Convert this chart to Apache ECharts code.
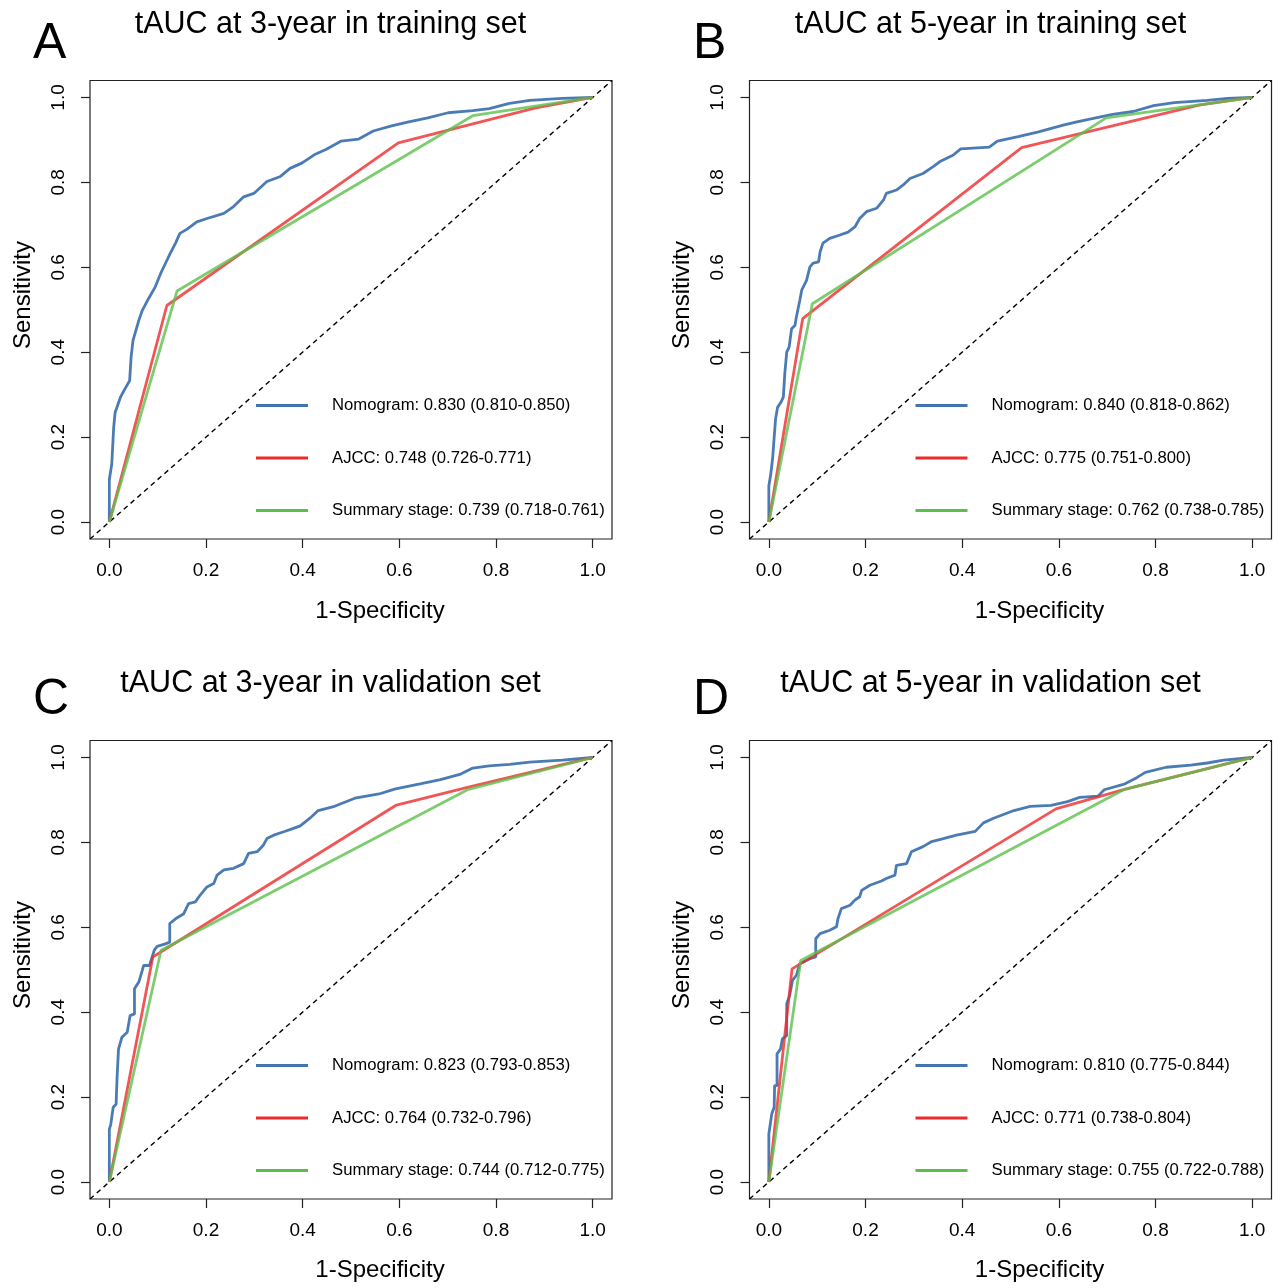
<!DOCTYPE html>
<html>
<head>
<meta charset="utf-8">
<script src="https://cdn.jsdelivr.net/npm/echarts@6/dist/echarts.min.js"></script>
<style>
  html, body { margin: 0; padding: 0; background: #fff; }
  #main { width: 1286px; height: 1288px; }
</style>
</head>
<body>
<div id="main"></div>
<script>
// tick values shared by both axes
var ticks = [0, 0.2, 0.4, 0.6, 0.8, 1.0];

var titles = ['tAUC at 3-year in training set', 'tAUC at 5-year in training set',
              'tAUC at 3-year in validation set', 'tAUC at 5-year in validation set'];
var letters = ['A', 'B', 'C', 'D'];
var modelNames = ['Nomogram', 'AJCC', 'Summary stage'];
var aucLabels = [
    ['0.830 (0.810-0.850)', '0.748 (0.726-0.771)', '0.739 (0.718-0.761)'],
    ['0.840 (0.818-0.862)', '0.775 (0.751-0.800)', '0.762 (0.738-0.785)'],
    ['0.823 (0.793-0.853)', '0.764 (0.732-0.796)', '0.744 (0.712-0.775)'],
    ['0.810 (0.775-0.844)', '0.771 (0.738-0.804)', '0.755 (0.722-0.788)']
];

// [1-specificity, sensitivity]
var nomogramA = [[0,0],[0,0.10],[0.005,0.136],[0.009,0.223],[0.012,0.258],[0.023,0.294],[0.03,0.309],[0.042,0.333],[0.045,0.388],[0.049,0.428],[0.061,0.475],[0.068,0.498],[0.081,0.526],[0.095,0.554],[0.106,0.585],[0.116,0.609],[0.126,0.633],[0.137,0.657],[0.146,0.68],[0.161,0.69],[0.181,0.707],[0.202,0.715],[0.237,0.727],[0.257,0.743],[0.278,0.766],[0.299,0.774],[0.326,0.802],[0.354,0.814],[0.374,0.833],[0.399,0.846],[0.424,0.865],[0.449,0.878],[0.479,0.897],[0.516,0.902],[0.546,0.921],[0.584,0.933],[0.617,0.942],[0.659,0.952],[0.701,0.964],[0.752,0.969],[0.786,0.974],[0.828,0.986],[0.87,0.993],[0.937,0.998],[1,1]];
var ajccA = [[0,0],[0.119,0.51],[0.598,0.893],[0.88,0.975],[1,1]];
var summaryA = [[0,0],[0.14,0.544],[0.752,0.957],[1,1]];

var nomogramB = [[0,0],[0,0.085],[0.004,0.113],[0.008,0.152],[0.011,0.199],[0.014,0.243],[0.018,0.27],[0.025,0.282],[0.03,0.294],[0.033,0.349],[0.037,0.4],[0.042,0.412],[0.047,0.455],[0.054,0.463],[0.057,0.483],[0.064,0.522],[0.068,0.546],[0.078,0.569],[0.085,0.601],[0.092,0.61],[0.103,0.613],[0.106,0.636],[0.112,0.657],[0.126,0.668],[0.147,0.676],[0.164,0.683],[0.178,0.695],[0.188,0.715],[0.202,0.731],[0.223,0.739],[0.237,0.758],[0.243,0.774],[0.264,0.782],[0.278,0.794],[0.292,0.809],[0.319,0.821],[0.34,0.837],[0.354,0.849],[0.381,0.864],[0.397,0.879],[0.456,0.883],[0.473,0.897],[0.516,0.908],[0.558,0.919],[0.609,0.935],[0.635,0.942],[0.669,0.95],[0.711,0.96],[0.754,0.967],[0.796,0.981],[0.839,0.988],[0.907,0.993],[0.949,0.998],[1,1]];
var ajccB = [[0,0],[0.07,0.479],[0.523,0.882],[0.89,0.982],[1,1]];
var summaryB = [[0,0],[0.09,0.514],[0.698,0.952],[1,1]];

var nomogramC = [[0,0],[0,0.124],[0.003,0.136],[0.008,0.176],[0.014,0.183],[0.016,0.246],[0.019,0.313],[0.026,0.341],[0.037,0.353],[0.043,0.392],[0.052,0.396],[0.052,0.455],[0.061,0.471],[0.068,0.498],[0.071,0.51],[0.083,0.51],[0.093,0.546],[0.099,0.555],[0.116,0.561],[0.125,0.565],[0.125,0.609],[0.137,0.62],[0.154,0.632],[0.164,0.656],[0.178,0.66],[0.188,0.676],[0.202,0.695],[0.216,0.703],[0.223,0.723],[0.237,0.735],[0.257,0.739],[0.278,0.75],[0.288,0.774],[0.306,0.778],[0.319,0.794],[0.326,0.809],[0.34,0.817],[0.361,0.825],[0.381,0.833],[0.395,0.839],[0.415,0.857],[0.432,0.875],[0.466,0.885],[0.508,0.904],[0.558,0.914],[0.592,0.926],[0.643,0.938],[0.685,0.948],[0.727,0.961],[0.752,0.975],[0.786,0.98],[0.828,0.984],[0.87,0.989],[0.937,0.994],[1,1]];
var ajccC = [[0,0],[0.09,0.53],[0.594,0.888],[0.743,0.93],[1,1]];
var summaryC = [[0,0],[0.107,0.546],[0.743,0.925],[1,1]];

var nomogramD = [[0,0],[0,0.113],[0.006,0.16],[0.011,0.176],[0.012,0.227],[0.017,0.227],[0.017,0.302],[0.024,0.313],[0.028,0.337],[0.037,0.345],[0.037,0.42],[0.043,0.439],[0.049,0.475],[0.057,0.487],[0.064,0.514],[0.085,0.526],[0.097,0.53],[0.097,0.573],[0.106,0.585],[0.126,0.593],[0.14,0.601],[0.143,0.62],[0.15,0.644],[0.168,0.652],[0.178,0.664],[0.188,0.672],[0.192,0.687],[0.209,0.699],[0.233,0.709],[0.243,0.715],[0.261,0.723],[0.264,0.746],[0.285,0.75],[0.295,0.778],[0.319,0.79],[0.337,0.802],[0.361,0.809],[0.388,0.817],[0.427,0.826],[0.444,0.846],[0.465,0.857],[0.507,0.875],[0.541,0.885],[0.584,0.887],[0.618,0.896],[0.643,0.906],[0.681,0.909],[0.694,0.924],[0.737,0.938],[0.762,0.953],[0.779,0.965],[0.822,0.977],[0.873,0.982],[0.907,0.987],[0.941,0.994],[1,1]];
var ajccD = [[0,0],[0.048,0.502],[0.594,0.879],[0.736,0.925],[1,1]];
var summaryD = [[0,0],[0.066,0.522],[0.736,0.925],[1,1]];

var diagonal = [[-0.04,-0.04],[1.04,1.04]];

var panelData = [
    [nomogramA, ajccA, summaryA],
    [nomogramB, ajccB, summaryB],
    [nomogramC, ajccC, summaryC],
    [nomogramD, ajccD, summaryD]
];

var font = "'Liberation Sans', Arial, Helvetica, sans-serif";
var colors = ['#4174b0', '#ee2a2a', '#5cbf4c'];
var lefts = [90, 749.5, 90, 749.5];
var tops = [80.5, 80.5, 740.5, 740.5];
var gridW = 522, gridH = 458.5;

var grids = [], xAxes = [], yAxes = [], series = [], legends = [], graphics = [];

for (var i = 0; i < 4; i++) {
    grids.push({
        left: lefts[i], top: tops[i], width: gridW, height: gridH,
        show: true, borderColor: '#222', borderWidth: 1.2, backgroundColor: 'transparent'
    });
    xAxes.push({
        type: 'value', gridIndex: i, min: -0.04, max: 1.04, position: 'bottom',
        axisLine: { show: false, onZero: false },
        splitLine: { show: false },
        axisTick: { show: true, customValues: ticks, length: 9, lineStyle: { color: '#222', width: 1.2 } },
        axisLabel: { customValues: ticks, margin: 22, fontSize: 19, color: '#000', fontFamily: font,
                     formatter: function (v) { return v.toFixed(1); } }
    });
    yAxes.push({
        type: 'value', gridIndex: i, min: -0.04, max: 1.04, position: 'left',
        axisLine: { show: false, onZero: false },
        splitLine: { show: false },
        axisTick: { show: true, customValues: ticks, length: 9, lineStyle: { color: '#222', width: 1.2 } },
        axisLabel: { customValues: ticks, margin: 22, fontSize: 19, color: '#000', fontFamily: font, rotate: 90,
                     formatter: function (v) { return v.toFixed(1); } }
    });

    var legendNames = [];
    for (var k = 0; k < 3; k++) {
        var nm = modelNames[k] + ': ' + aucLabels[i][k];
        legendNames.push(nm);
        series.push({
            name: nm, type: 'line', xAxisIndex: i, yAxisIndex: i,
            data: panelData[i][k], symbol: 'none', color: colors[k],
            lineStyle: { width: 2.8, color: colors[k], opacity: k == 0 ? 0.95 : 0.8 },
            z: 3 + k
        });
    }
    // reference line
    series.push({
        type: 'line', xAxisIndex: i, yAxisIndex: i, data: diagonal, symbol: 'none', silent: true,
        lineStyle: { color: '#000', width: 1.4, type: [5, 4] }, z: 2
    });

    legends.push({
        data: legendNames, left: lefts[i] + 166, top: tops[i] + 315, padding: 0,
        orient: 'vertical', icon: 'rect', itemWidth: 52, itemHeight: 3, itemGap: 32.5,
        selectedMode: false,
        textStyle: { fontSize: 16.7, color: '#000', fontFamily: font, lineHeight: 20, padding: [0, 0, 0, 19] }
    });

    var dy = i < 2 ? 0 : 659;
    var dx = (i % 2) * 660;
    graphics.push({
        type: 'text', x: 330.5 + dx, y: 25 + dy,
        style: { text: titles[i], fontSize: 30.5, fontFamily: font, fill: '#000', align: 'center', verticalAlign: 'middle' }
    });
    graphics.push({
        type: 'text', x: 33 + dx, y: 44 + dy - (i < 2 ? 0 : 3),
        style: { text: letters[i], fontSize: 50, fontFamily: font, fill: '#000', align: 'left', verticalAlign: 'middle' }
    });
    graphics.push({
        type: 'text', x: lefts[i] - 67, y: 295 + dy + (i < 2 ? 0 : 1), rotation: Math.PI / 2,
        style: { text: 'Sensitivity', fontSize: 24, fontFamily: font, fill: '#000', align: 'center', verticalAlign: 'middle' }
    });
    graphics.push({
        type: 'text', x: lefts[i] + gridW / 2 + 29, y: 611 + dy,
        style: { text: '1-Specificity', fontSize: 24, fontFamily: font, fill: '#000', align: 'center', verticalAlign: 'middle' }
    });
}

var myChart = echarts.init(document.getElementById('main'));
var option = {
    backgroundColor: '#fff',
    animation: false,
    grid: grids,
    xAxis: xAxes,
    yAxis: yAxes,
    legend: legends,
    series: series,
    graphic: graphics
};
myChart.setOption(option);
</script>
</body>
</html>
